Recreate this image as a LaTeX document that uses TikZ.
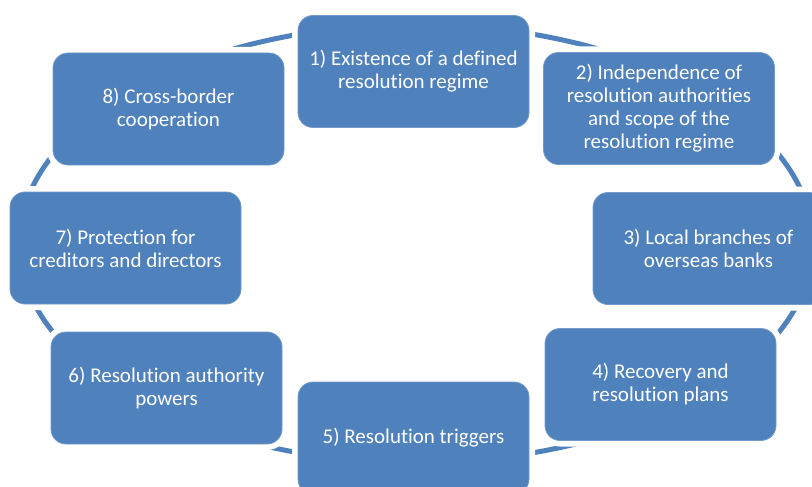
\documentclass[tikz,border=0pt]{standalone}
\usepackage{fontspec}
\setmainfont{Carlito}[Ligatures={NoCommon}]
\usepackage{xcolor}
\usepackage{tikz}
\usetikzlibrary{calc,backgrounds}
\definecolor{stageblue}{HTML}{4F81BD}

\begin{document}
\begin{tikzpicture}[
    x=1pt, y=-1pt,
    stage/.style={rectangle, rounded corners=15pt, fill=#1, draw=#1!80!white,
                  line width=0.8pt, preaction={draw=white, line width=12pt},
                  text=white, minimum width=231pt, minimum height=112pt,
                  inner sep=0pt, align=center, font=\fontsize{21}{23}\selectfont},
    ring/.style={line width=5pt, draw=#1}
]

\useasboundingbox (0,0) rectangle (812,487);
\clip (0,0) rectangle (812,487);

% Stages round the cycle
\node[stage=stageblue] (s1) at (413.5,71.5) {1) Existence of a defined\\resolution regime};
\node[stage=stageblue] (s2) at (659,108.5) {2) Independence of\\resolution authorities\\and scope of the\\resolution regime};
\node[stage=stageblue] (s3) at (708.5,248.5) {3) Local branches of\\overseas banks};
\node[stage=stageblue] (s4) at (660.5,384.5) {4) Recovery and\\resolution plans};
\node[stage=stageblue] (s5) at (413.5,438) {5) Resolution triggers};
\node[stage=stageblue] (s6) at (166.5,388) {6) Resolution authority\\powers};
\node[stage=stageblue] (s7) at (125.5,248) {7) Protection for\\creditors and directors};
\node[stage=stageblue] (s8) at (168.5,109) {8) Cross-border\\cooperation};

% Ring between the stages
\coordinate (hub) at (416,243.5);
\begin{scope}[on background layer]
\foreach \i [evaluate=\i as \ang using 225+45*\i] in {1,...,8} {
    \coordinate (r\i) at ($(hub)+(\ang:397 and 219)$);
    \draw[ring=stageblue] (r\i) arc[start angle=\ang, delta angle=45, x radius=397, y radius=219];
}
\end{scope}

\end{tikzpicture}
\end{document}
